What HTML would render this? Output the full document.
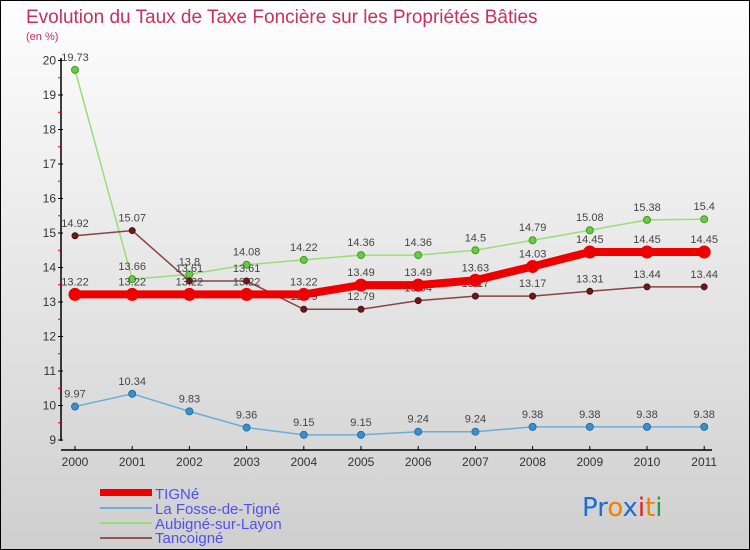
<!DOCTYPE html>
<html><head><meta charset="utf-8"><style>
body{margin:0}
#c{width:750px;height:550px;position:relative;overflow:hidden;box-sizing:border-box;border:1px solid #000;background:linear-gradient(#fefefe,#cfcfcf);font-family:"Liberation Sans",sans-serif}
</style></head><body>
<div id="c">
<svg width="750" height="550" id="s" style="position:absolute;left:-1px;top:-1px">
<text x="26" y="23" font-size="19" fill="#c8305e">Evolution du Taux de Taxe Foncière sur les Propriétés Bâties</text>
<text x="26" y="40" font-size="11" fill="#c8305e">(en %)</text>
<g id="axes"></g><g id="series"></g>
<g font-size="15" fill="#5050ee">
<rect x="100" y="489" width="52" height="7" fill="#e00"/>
<text x="155" y="499">TIGNé</text>
<rect x="100" y="507" width="52" height="2" fill="#6aaed6"/>
<text x="155" y="514">La Fosse-de-Tigné</text>
<rect x="100" y="522" width="52" height="2" fill="#99dd77"/>
<text x="155" y="529">Aubigné-sur-Layon</text>
<rect x="100" y="537" width="52" height="2" fill="#995555"/>
<text x="155" y="543">Tancoigné</text>
</g>
<g font-size="26" font-family="'DejaVu Sans',sans-serif">
<text x="582" y="516"><tspan fill="#1a6fd0">Pr</tspan><tspan fill="#f08000">o</tspan><tspan fill="#1a6fd0">x</tspan><tspan fill="#e02020">i</tspan><tspan fill="#f08000">t</tspan><tspan fill="#20a040">i</tspan></text>
</g>
</svg>
</div>
<script>
const years=[2000,2001,2002,2003,2004,2005,2006,2007,2008,2009,2010,2011];
const yTicks=[9,10,11,12,13,14,15,16,17,18,19,20];
const tigne=[13.22,13.22,13.22,13.22,13.22,13.49,13.49,13.63,14.03,14.45,14.45,14.45];
const fosse=[9.97,10.34,9.83,9.36,9.15,9.15,9.24,9.24,9.38,9.38,9.38,9.38];
const aubigne=[19.73,13.66,13.8,14.08,14.22,14.36,14.36,14.5,14.79,15.08,15.38,15.4];
const tancoigne=[14.92,15.07,13.61,13.61,12.79,12.79,13.04,13.17,13.17,13.31,13.44,13.44];
const NS="http://www.w3.org/2000/svg";
const X=i=>75+i*57.2, Y=v=>440-(v-9)*34.5;
function mk(tag,at,par){const e=document.createElementNS(NS,tag);for(const k in at)e.setAttribute(k,at[k]);par.appendChild(e);return e;}
const ax=document.getElementById('axes'),se=document.getElementById('series');
const ya=mk('line',{x1:61,y1:58,x2:61,y2:441,stroke:'#000','stroke-width':1.5},ax);


const xa=mk('line',{x1:61,y1:450,x2:712,y2:450,stroke:'#000','stroke-width':1.5},ax);


yTicks.forEach(v=>{mk('line',{x1:58,x2:63,y1:Y(v),y2:Y(v),stroke:'#000'},ax);
 if(v<20)mk('line',{x1:58,x2:61,y1:Y(v+0.5),y2:Y(v+0.5),stroke:'#e00'},ax);
 const t=mk('text',{x:56,y:Y(v)+4,'font-size':12,fill:'#333','text-anchor':'end'},ax);t.textContent=v;
 
 });
years.forEach((y,i)=>{mk('line',{x1:X(i),x2:X(i),y1:446,y2:450,stroke:'#000'},ax);
 const t=mk('text',{x:X(i),y:466,'font-size':12,fill:'#333','text-anchor':'middle'},ax);t.textContent=y;
 
 });
function series(d,name,col,w,dot,dotc,r){
 const g=mk('g',{},se);
 
 
 mk('polyline',{points:d.map((v,i)=>X(i)+','+Y(v)).join(' '),fill:'none',stroke:col,'stroke-width':w},g);
 d.forEach((v,i)=>{const c=mk('circle',{cx:X(i),cy:Y(v),r:r,fill:dot,stroke:dotc},g);
  
  
  const t=mk('text',{x:X(i),y:Y(v)-9,'font-size':11,fill:'#444','text-anchor':'middle'},g);t.textContent=v;
  
  });
}
series(fosse,'fosse','#6aaed6',1.5,'#3a8fd0','#2a6fa0',3.5);
series(aubigne,'aubigne','#99dd77',1.5,'#66cc44','#449922',3.5);
series(tancoigne,'tancoigne','#884444',1.5,'#6a1a1a','#501010',3);
series(tigne,'tigne','#ee0000',8,'#ee0000','#ee0000',6);
</script>
</body></html>
